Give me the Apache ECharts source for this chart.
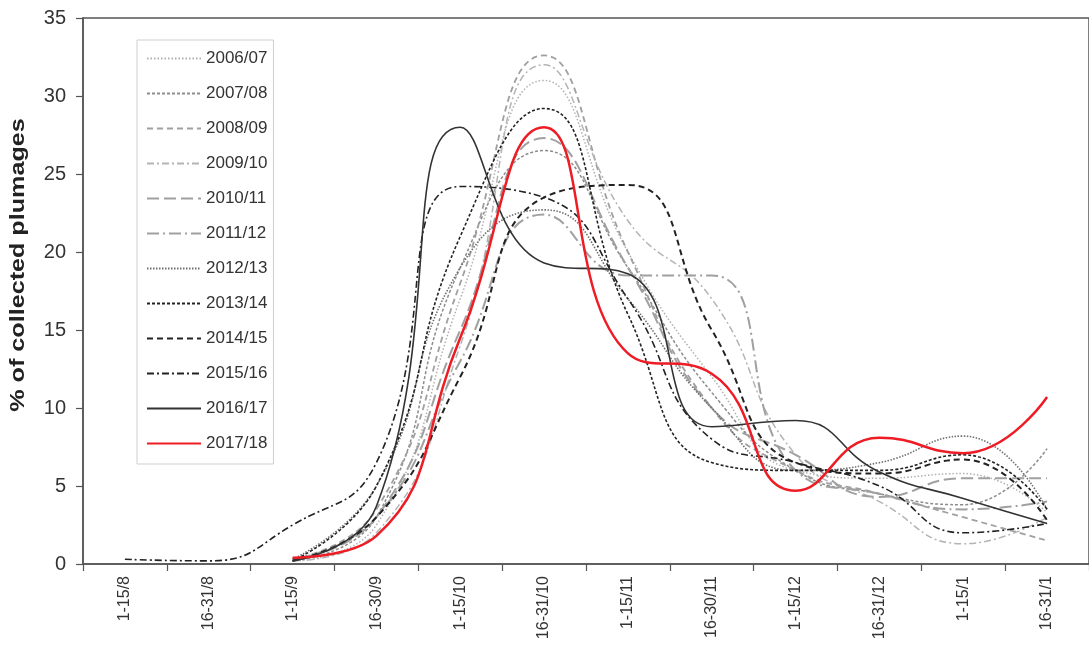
<!DOCTYPE html>
<html>
<head>
<meta charset="utf-8">
<script src="https://cdn.jsdelivr.net/npm/echarts@6/dist/echarts.min.js"></script>
<style>
html,body{margin:0;padding:0;background:#fff;}
#chart{width:1089px;height:648px;}
</style>
</head>
<body>
<div id="chart"></div>
<script>
const categories = ['1-15/8','16-31/8','1-15/9','16-30/9','1-15/10','16-31/10','1-15/11','16-30/11','1-15/12','16-31/12','1-15/1','16-31/1'];
const yTicks = [0,5,10,15,20,25,30,35];
const seasons = ['2006/07','2007/08','2008/09','2009/10','2010/11','2011/12','2012/13','2013/14','2014/15','2015/16','2016/17','2017/18'];

const s2006 = [null,null,0.2,2.5,17,31,20,12,6,5.5,5.8,3.3];
const s2007 = [null,null,0.2,3,19,26.5,19,11,6,4.5,3.8,7.4];
const s2008 = [null,null,0.3,3.5,18,32.6,20,10,6,4.5,3,1.5];
const s2009 = [null,null,0.2,2,14,32,22,17,7,4,1.3,3];
const s2010 = [null,null,0.3,3,15,27.3,19,10,7,4.3,5.5,5.5];
const s2011 = [null,null,0.3,3,13,22.4,18.5,18.5,6,4.5,3.5,4];
const s2012 = [null,null,0.3,5,19,22.7,17,10,6,6.5,8.2,3.5];
const s2013 = [null,null,0.2,5,21,29.2,16,6.5,6,6,7,3.5];
const s2014 = [null,null,0.2,3,12,23.5,24.3,15,6.5,5.8,6.7,2.8];
const s2015 = [0.3,0.2,2.5,6.5,24.2,23.5,17,8,6.5,5,2,2.6];
const s2016 = [null,null,0.2,3.7,28,19.3,18.6,8.8,9.2,5.9,4.2,2.6];
const s2017 = [null,null,0.4,1.8,14.5,28,13.5,12.2,4.7,8.1,7.1,10.7];

const values = [s2006,s2007,s2008,s2009,s2010,s2011,s2012,s2013,s2014,s2015,s2016,s2017];
const styles = [
  {color:'#b0b0b0', width:1.5, type:[1.5,2]},
  {color:'#8c8c8c', width:1.5, type:[3,2]},
  {color:'#a0a0a0', width:1.8, type:[6,4]},
  {color:'#b4b4b4', width:1.5, type:[7,3,2,3]},
  {color:'#a0a0a0', width:2, type:[12,5]},
  {color:'#a0a0a0', width:2, type:[12,4,2,4]},
  {color:'#707070', width:1.6, type:[1.5,1.5]},
  {color:'#222222', width:1.6, type:[3,2]},
  {color:'#222222', width:2, type:[6,4]},
  {color:'#222222', width:1.6, type:[7,3,2,3]},
  {color:'#333333', width:1.6, type:'solid'},
  {color:'#ee1c25', width:2.5, type:'solid'}
];

const series = seasons.map((name, i) => ({
  name: name,
  type: 'line',
  data: values[i],
  smooth: 0.5,
  symbol: 'none',
  showSymbol: false,
  itemStyle: {color: styles[i].color},
  lineStyle: {color: styles[i].color, width: styles[i].width, type: styles[i].type},
  z: 2 + i
}));

const chart = echarts.init(document.getElementById('chart'), null, {renderer:'canvas'});
chart.setOption({
  animation: false,
  backgroundColor: '#fff',
  textStyle: {fontFamily: 'Liberation Sans, Arial, sans-serif'},
  grid: {left: 83, right: -10, top: 18, bottom: 84, show: true, borderColor: '#555', borderWidth: 1.5, backgroundColor: 'transparent'},
  legend: {
    orient: 'vertical', left: 137, top: 40,
    itemWidth: 54, itemHeight: 14, itemGap: 18,
    padding: [10, 6, 12, 9],
    borderColor: '#cfcfcf', borderWidth: 1,
    itemStyle: {opacity: 0},
    textStyle: {fontSize: 17, color: '#333', fontFamily: 'Liberation Sans, Arial, sans-serif'},
    data: seasons
  },
  xAxis: {
    type: 'category',
    data: categories,
    boundaryGap: true,
    axisLine: {lineStyle: {color: '#555', width: 1.5}},
    axisTick: {show: true, length: 7, lineStyle: {color: '#555', width: 1.2}},
    axisLabel: {rotate: 90, fontSize: 16, color: '#333', margin: 12, interval: 0}
  },
  yAxis: {
    type: 'value', min: yTicks[0], max: yTicks[yTicks.length-1], interval: 5,
    splitLine: {show: false},
    axisLine: {show: true, lineStyle: {color: '#555', width: 1.5}},
    axisTick: {show: true, length: 7, lineStyle: {color: '#555', width: 1.2}},
    axisLabel: {fontSize: 20, color: '#333', margin: 17}
  },
  graphic: [{
    type: 'text', x: 19, y: 265, rotation: Math.PI/2, scaleX: 1.29, scaleY: 1,
    style: {text: '% of collected plumages', font: 'bold 19.5px "Liberation Sans", Arial, sans-serif', fill: '#222', align: 'center', verticalAlign: 'middle'}
  }],
  series: series
});
</script>
</body>
</html>
